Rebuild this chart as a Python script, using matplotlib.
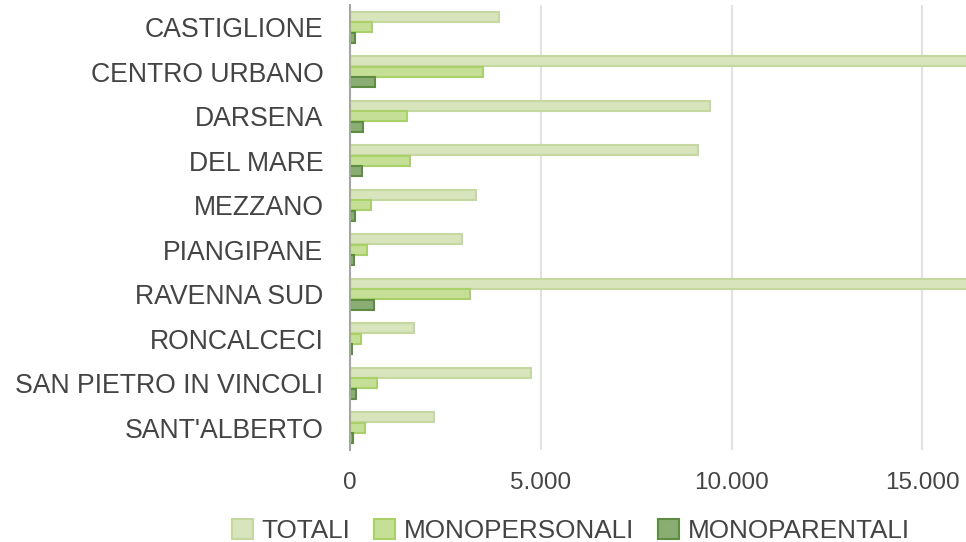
import numpy as np
import matplotlib.pyplot as plt
from matplotlib.ticker import FuncFormatter

plt.rcParams['font.family'] = ['Liberation Sans', 'DejaVu Sans']

# Data
quartieri = ['CASTIGLIONE', 'CENTRO URBANO', 'DARSENA', 'DEL MARE', 'MEZZANO',
             'PIANGIPANE', 'RAVENNA SUD', 'RONCALCECI', 'SAN PIETRO IN VINCOLI',
             "SANT'ALBERTO"]
totali = [3900, 21500, 9430, 9110, 3310, 2940, 19800, 1670, 4730, 2190]
monopersonali = [585, 3490, 1490, 1560, 560, 445, 3140, 280, 700, 385]
monoparentali = [140, 665, 330, 305, 130, 115, 620, 60, 165, 90]

series = [
    ('TOTALI', totali, '#d8e4bc', '#c5d8a0'),
    ('MONOPERSONALI', monopersonali, '#c6df96', '#aad06a'),
    ('MONOPARENTALI', monoparentali, '#8aad74', '#5e8c42'),
]

fig = plt.figure(figsize=(9.66, 5.42), dpi=100)
ax = fig.add_axes([350 / 966, 1 - 450 / 542, 1 - 350 / 966, 445 / 542])

y = np.arange(len(quartieri))
h = 0.235
offsets = [-h, 0, h]
for (name, vals, fc, ec), off in zip(series, offsets):
    ax.barh(y + off, vals, height=h * 0.97, color=fc, edgecolor=ec,
            linewidth=1.5, label=name, zorder=3)

ax.set_ylim(len(quartieri) - 0.5, -0.5)
ax.set_xlim(0, 16140)
ax.set_xticks([0, 5000, 10000, 15000])
ax.xaxis.set_major_formatter(FuncFormatter(lambda v, p: f'{int(v):,}'.replace(',', '.')))
ax.set_yticks(y)
ax.set_yticklabels(quartieri)
ax.tick_params(axis='both', length=0, labelcolor='#444444')
ax.tick_params(axis='x', pad=16, labelsize=17.5)
ax.tick_params(axis='y', pad=19, labelsize=19.2)

ax.grid(axis='x', color='#e2e2e2', linewidth=1.5, zorder=0)
for s in ['top', 'right', 'bottom']:
    ax.spines[s].set_visible(False)
ax.spines['left'].set_color('#a6a6a6')
ax.spines['left'].set_linewidth(1.5)
ax.spines['left'].set_zorder(4)

fig.legend(loc='lower center', bbox_to_anchor=(0.591, -0.045), ncol=3,
           frameon=False, fontsize=18.8, labelcolor='#444444',
           handlelength=0.8, handleheight=0.8, handletextpad=0.35,
           columnspacing=0.9)

fig.savefig('out.png', dpi=100)
